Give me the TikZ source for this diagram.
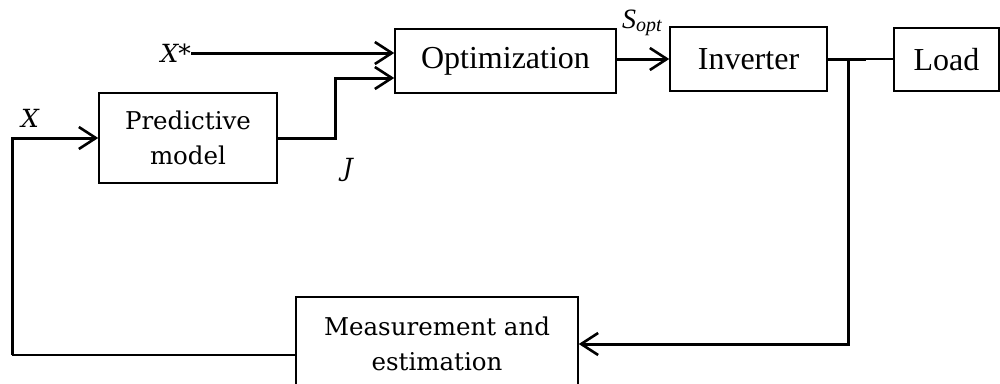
\documentclass[tikz,border=0pt]{standalone}
\usepackage{fontspec}
\setmainfont{Liberation Serif}
\newfontfamily\bk{DejaVu Serif}
\usetikzlibrary{arrows.meta}
\tikzset{
  box/.style={draw, line width=1.5pt, inner sep=0pt, align=center},
  tbox/.style={box, font=\fontsize{32}{36}\selectfont},
  bbox/.style={box, font=\bk\fontsize{24.5}{35}\selectfont},
  lab/.style={inner sep=0pt, font=\bk\itshape\fontsize{25}{28}\selectfont},
  wire/.style={line width=3pt},
  thinwire/.style={line width=1.8pt},
  arr/.style={wire, -{Straight Barb[length=17pt, width=22pt, line width=2.6pt]}}
}
\begin{document}
\begin{tikzpicture}[x=1pt, y=-1pt]
\useasboundingbox (0,0) rectangle (1000,383);
\clip (0,0) rectangle (1000,383);
% boxes
\node[bbox, minimum width=178pt, minimum height=90pt] (pred) at (188,138) {Predictive\\model};
\node[tbox, minimum width=221pt, minimum height=64pt] (opt) at (505.5,61) {Optimization};
\node[tbox, minimum width=157pt, minimum height=64pt] (inv) at (748.5,59) {Inverter};
\node[tbox, minimum width=105pt, minimum height=63pt] (load) at (946.5,59.5) {Load};
\node[bbox, minimum width=282pt, minimum height=94pt] (meas) at (437,344) {Measurement and\\estimation};
% labels
\node[lab, anchor=east] (xs) at (191,53) {X*};
\node[lab] (xl) at (30,118) {X};
\node[lab] (jl) at (348,170) {J};
\node[anchor=base west, inner sep=0pt] (sopt) at (622,28) {\fontsize{28}{30}\selectfont\textit{S}\raisebox{-3pt}{\fontsize{20}{22}\selectfont\textit{opt}}};
% coordinates
\coordinate (jbend) at (335,78);
\coordinate (fb) at (12,355);
\coordinate (xin) at (12,138);
\coordinate (br) at (848,59);
\coordinate (stub) at (866,59);
% connectors
\draw[arr] (xs.east) -- (opt.west |- xs.east);
\draw[arr] (pred.east) -| (jbend) -- (opt.west |- jbend);
\draw[arr] (opt.east |- inv.west) -- (inv.west);
\draw[wire] (inv.east) -- (stub);
\draw[thinwire] (stub) -- (load.west |- stub);
\draw[arr] (br) |- (meas.east);
\draw[thinwire] (meas.west |- fb) -- (fb);
\draw[arr] (fb) -- (xin) -- (pred.west);
\end{tikzpicture}
\end{document}
